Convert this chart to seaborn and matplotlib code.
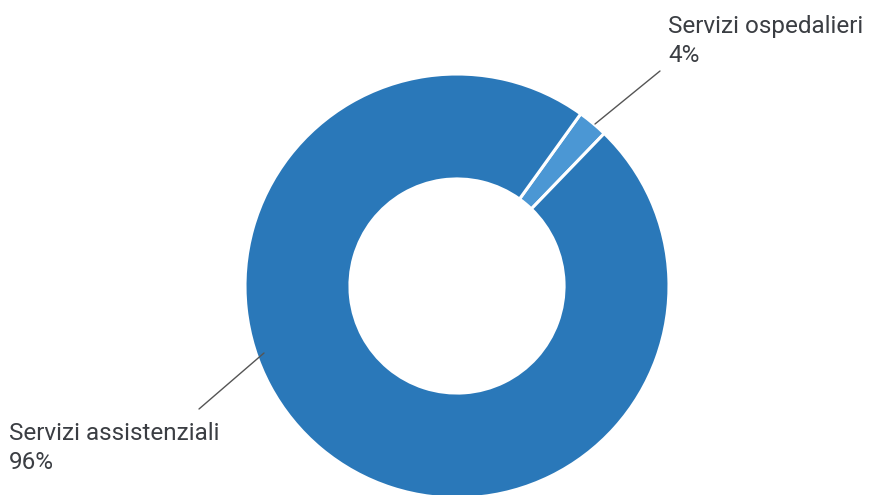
import matplotlib
matplotlib.use("Agg")
import matplotlib.pyplot as plt
import seaborn as sns

categories = ["Servizi ospedalieri", "Servizi assistenziali"]
shares = [2.3, 97.7]          # drawn share of the ring
label_pct = ["4%", "96%"]     # percentages printed in the labels
colors = ["#4b97d4", "#2a78b9"]

sns.set_theme(style="white")
plt.rcParams["font.family"] = ["Roboto", "DejaVu Sans"]

W, H = 876, 495
fig = plt.figure(figsize=(W / 100, H / 100), dpi=100)
ax = fig.add_axes([0, 0, 1, 1])

cx, cy, R = 457, H - 286, 212
ax.pie(shares, colors=colors, startangle=54.3, counterclock=False,
       center=(cx, cy), radius=R, frame=True,
       wedgeprops=dict(width=R * 0.495, edgecolor="white", linewidth=2.2))
ax.set_xlim(0, W)
ax.set_ylim(0, H)
ax.set_aspect("equal")
ax.axis("off")

txt = "#3b3e43"
line_c = "#555555"
# leader lines and labels (layout positions in pixels)
ax.plot([595, 660], [H - 124, H - 71], color=line_c, lw=1)
ax.plot([264, 199], [H - 353, H - 409], color=line_c, lw=1)
ax.text(668, H - 15, f"{categories[0]}\n{label_pct[0]}", ha="left", va="top",
        fontsize=17.5, color=txt, linespacing=1.32)
ax.text(9, H - 422, f"{categories[1]}\n{label_pct[1]}", ha="left", va="top",
        fontsize=17.5, color=txt, linespacing=1.32)

fig.savefig("out.png", dpi=100)
